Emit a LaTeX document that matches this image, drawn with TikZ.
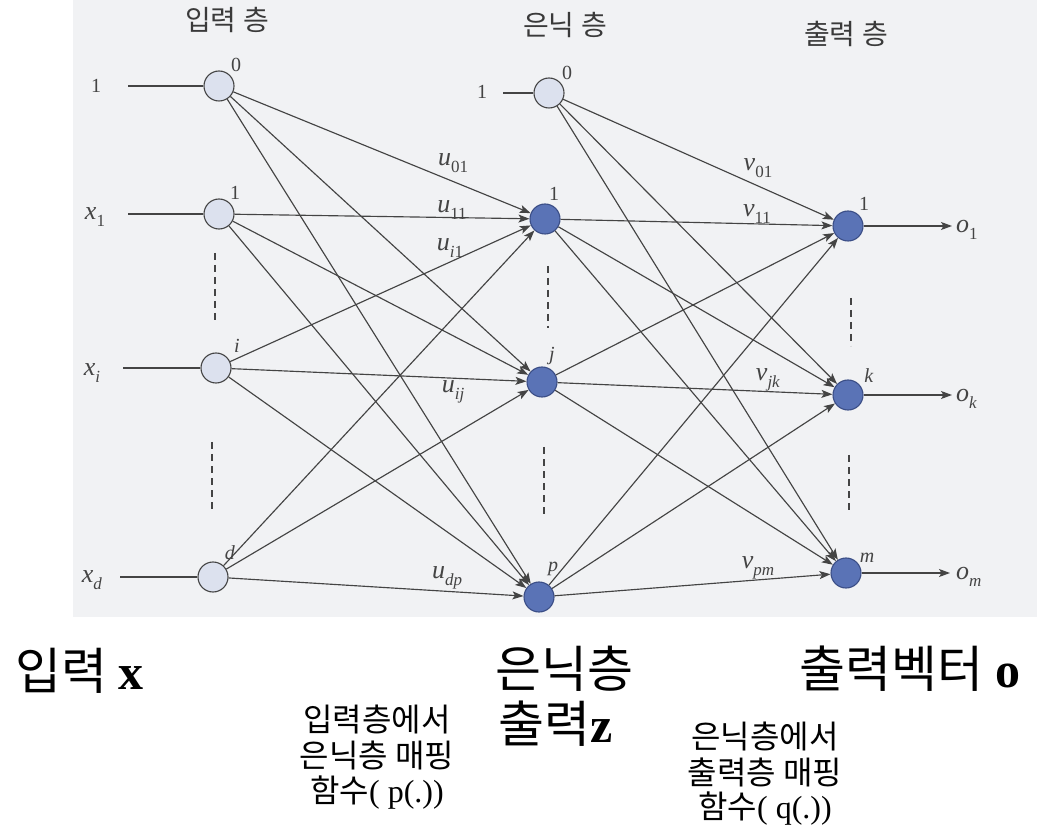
\documentclass[tikz,border=0pt]{standalone}
\usepackage{fontspec}
\setmainfont{Liberation Serif}
\newfontfamily\kr{Noto Sans CJK KR}
\usetikzlibrary{arrows.meta}
\definecolor{bg}{HTML}{F1F2F4}
\definecolor{ln}{HTML}{444444}
\definecolor{lightnode}{HTML}{DCE1EE}
\definecolor{darknode}{HTML}{5A73B6}
\definecolor{darkedge}{HTML}{3B4E86}
\definecolor{hdr}{HTML}{3A3A3A}
\newcommand{\wl}[2]{\textit{#1}\raisebox{-0.25em}{\fontsize{17}{17}\selectfont #2}}
\begin{document}
\begin{tikzpicture}[x=1pt,y=-1pt,
  lnode/.style={circle, draw=ln, line width=1.1pt, fill=lightnode, minimum size=30pt, inner sep=0pt},
  dnode/.style={circle, draw=darkedge, line width=1.1pt, fill=darknode, minimum size=30pt, inner sep=0pt},
  conn/.style={draw=ln, line width=1.15pt},
  arr/.style={conn, -{Stealth[length=11pt,width=8pt,inset=2.5pt]}},
  dsh/.style={draw=ln, line width=1.3pt, dash pattern=on 7pt off 5pt},
  num/.style={font=\fontsize{20}{22}\selectfont, text=ln, inner sep=0pt},
  wlab/.style={font=\fontsize{26}{28}\selectfont, text=ln, inner sep=0pt},
  hdrtext/.style={font=\kr\fontsize{28}{30}\selectfont, text=hdr, inner sep=0pt},
  bigtext/.style={font=\kr\fontsize{50}{54}\selectfont, inner sep=0pt, anchor=base},
  smalltext/.style={font=\kr\fontsize{32}{34}\selectfont, inner sep=0pt, anchor=base},
]
\useasboundingbox (0,0) rectangle (1037,826);
\fill[bg] (73,0) rectangle (1037,617);

% headers
\node[hdrtext] (h1) at (227,20) {입력 층};
\node[hdrtext] (h2) at (565,25) {은닉 층};
\node[hdrtext] (h3) at (846,34) {출력 층};

% nodes
\node[lnode] (I0) at (219,86) {};
\node[lnode] (I1) at (219,214) {};
\node[lnode] (Ii) at (216,368) {};
\node[lnode] (Id) at (213,577) {};
\node[lnode] (H0) at (549,93) {};
\node[dnode] (H1) at (545,219) {};
\node[dnode] (Hj) at (542,382) {};
\node[dnode] (Hp) at (539,597) {};
\node[dnode] (O1) at (848,226) {};
\node[dnode] (Ok) at (848,395) {};
\node[dnode] (Om) at (846,573) {};

% free ends
\coordinate (s0) at (128,86);
\coordinate (s1) at (128,214);
\coordinate (si) at (123,368);
\coordinate (sd) at (120,577);
\coordinate (sh) at (503,93);
\coordinate (e1) at (952,226);
\coordinate (ek) at (952,395);
\coordinate (em) at (950,573);

\draw[conn] (s0) -- (I0);
\draw[conn] (s1) -- (I1);
\draw[conn] (si) -- (Ii);
\draw[conn] (sd) -- (Id);
\draw[conn] (sh) -- (H0);

\foreach \a in {I0,I1,Ii,Id}
  \foreach \b in {H1,Hj,Hp}
    \draw[arr] (\a) -- (\b);
\foreach \a in {H0,H1,Hj,Hp}
  \foreach \b in {O1,Ok,Om}
    \draw[arr] (\a) -- (\b);

\draw[arr] (O1) -- (e1);
\draw[arr] (Ok) -- (ek);
\draw[arr] (Om) -- (em);

% dashed ellipses
\coordinate (da1) at (215,253); \coordinate (da2) at (215,320);
\coordinate (db1) at (212,442); \coordinate (db2) at (212,512);
\coordinate (dc1) at (548,266); \coordinate (dc2) at (548,328);
\coordinate (dd1) at (544,447); \coordinate (dd2) at (544,515);
\coordinate (de1) at (851,298); \coordinate (de2) at (851,346);
\coordinate (df1) at (849,455); \coordinate (df2) at (849,510);
\draw[dsh] (da1) -- (da2);
\draw[dsh] (db1) -- (db2);
\draw[dsh] (dc1) -- (dc2);
\draw[dsh] (dd1) -- (dd2);
\draw[dsh] (de1) -- (de2);
\draw[dsh] (df1) -- (df2);

% input labels
\node[num] (in0) at (96,86) {1};
\node[wlab] (in1) at (95,217) {\wl{x}{1}};
\node[wlab] (ini) at (92,373) {\wl{x}{\textit{i}}};
\node[wlab] (ind) at (92,580) {\wl{x}{\textit{d}}};
\node[num] (hb) at (482,92) {1};

% node numbers
\node[num] (nI0) at (236,65) {0};
\node[num] (nI1) at (235,193) {1};
\node[num] (nIi) at (237,346) {\textit{i}};
\node[num] (nId) at (230,553) {\textit{d}};
\node[num] (nH0) at (567,73) {0};
\node[num] (nH1) at (554,194) {1};
\node[num] (nHj) at (552,356) {\textit{j}};
\node[num] (nHp) at (553,569) {\textit{p}};
\node[num] (nO1) at (864,204) {1};
\node[num] (nOk) at (869,376) {\textit{k}};
\node[num] (nOm) at (867,558) {\textit{m}};

% weight labels
\node[wlab] (lu01) at (453,163) {\wl{u}{01}};
\node[wlab] (lu11) at (452,210) {\wl{u}{11}};
\node[wlab] (lui1) at (450,248) {\wl{u}{\textit{i}1}};
\node[wlab] (luij) at (453,392) {\wl{u}{\textit{ij}}};
\node[wlab] (ludp) at (447,578) {\wl{u}{\textit{dp}}};
\node[wlab] (lv01) at (758,168) {\wl{v}{01}};
\node[wlab] (lv11) at (757,214) {\wl{v}{11}};
\node[wlab] (lvjk) at (768,380) {\wl{v}{\textit{jk}}};
\node[wlab] (lvpm) at (758,568) {\wl{v}{\textit{pm}}};

% outputs
\node[wlab, anchor=west] (o1) at (956,230) {\wl{o}{1}};
\node[wlab, anchor=west] (ok) at (956,399) {\wl{o}{\textit{k}}};
\node[wlab, anchor=west] (om) at (956,577) {\wl{o}{\textit{m}}};

% bottom texts
\node[bigtext, anchor=base west] (b1) at (15,689) {입력 {\rmfamily\bfseries x}};
\node[bigtext] (b2) at (564,687) {은닉층};
\node[bigtext] (b3) at (556,742) {출력{\rmfamily\bfseries z}};
\node[bigtext] (b4) at (910,687) {출력벡터 {\rmfamily\bfseries o}};
\node[smalltext] (p1) at (377,731) {입력층에서};
\node[smalltext] (p2) at (377,767) {은닉층 매핑};
\node[smalltext] (p3) at (377,802) {함수{\rmfamily ( p(.))}};
\node[smalltext] (q1) at (765,748) {은닉층에서};
\node[smalltext] (q2) at (765,784) {출력층 매핑};
\node[smalltext] (q3) at (765,818) {함수{\rmfamily ( q(.))}};
\end{tikzpicture}
\end{document}
